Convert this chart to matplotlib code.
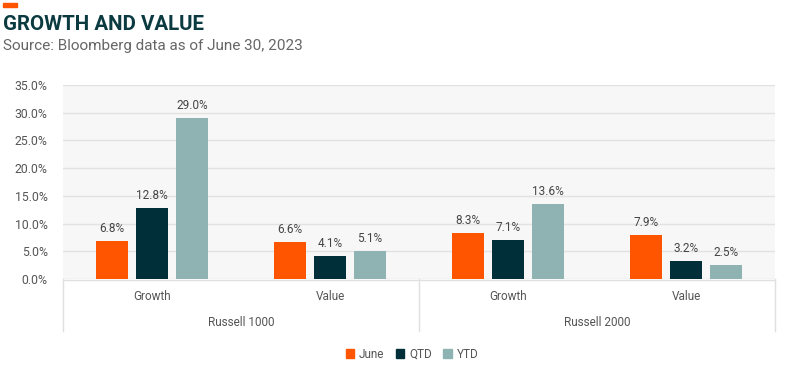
import matplotlib
matplotlib.use("Agg")
import matplotlib.pyplot as plt
from matplotlib.patches import Rectangle
from matplotlib.lines import Line2D
import numpy as np

plt.rcParams['font.family'] = ['Roboto', 'DejaVu Sans']

groups = ["Russell 1000", "Russell 2000"]
categories = ["Growth", "Value", "Growth", "Value"]
series = ["June", "QTD", "YTD"]
june = [6.8, 6.6, 8.3, 7.9]
qtd = [12.8, 4.1, 7.1, 3.2]
ytd = [29.0, 5.1, 13.6, 2.5]
yticks = [0, 5, 10, 15, 20, 25, 30, 35]
colors = ["#FF5500", "#002F3A", "#8FB3B3"]

W, H = 801, 377
fig = plt.figure(figsize=(W/100, H/100), dpi=100)
L, R, T, B = 63, 775, 85, 279
ax = fig.add_axes([L/W, 1-B/H, (R-L)/W, (B-T)/H])
ax.set_facecolor("#F7F7F7")

x = np.arange(len(categories))
bw = 0.175
gap = 0.05
for i, (vals, c) in enumerate(zip([june, qtd, ytd], colors)):
    off = (i-1)*(bw+gap)
    ax.bar(x+off, vals, width=bw, color=c, zorder=3, label=series[i])
    for xi, v in zip(x+off, vals):
        ax.text(xi, v+1.1, f"{v:.1f}%", ha="center", va="bottom", fontsize=8.5, color="#444444")

ax.set_xlim(-0.5, 3.5)
ax.set_ylim(0, 35)
ax.set_yticks(yticks)
ax.set_yticklabels([f"{t:.1f}%" for t in yticks], fontsize=8.8, color="#555555")
ax.tick_params(axis='y', length=0, pad=11)
ax.set_xticks([])
ax.grid(axis='y', color="#E2E2E2", linewidth=1, zorder=0)
for s in ax.spines.values():
    s.set_visible(False)

# category box below axes
def fx(px): return px/W
def fy(py): return 1-py/H
fig.add_artist(Line2D([fx(L), fx(R)], [fy(B+1), fy(B+1)], color="#E0E0E0", lw=1))
for px in [L, (L+R)/2, R]:
    fig.add_artist(Line2D([fx(px), fx(px)], [fy(B), fy(331)], color="#E0E0E0", lw=1))
for i, c in enumerate(categories):
    xc = L + (R-L)*(i+0.5)/4
    fig.text(fx(xc), fy(296), c, ha="center", va="center", fontsize=8.5, color="#555555")
for i, g in enumerate(groups):
    xc = L + (R-L)*(i+0.5)/2
    fig.text(fx(xc), fy(322), g, ha="center", va="center", fontsize=8.5, color="#555555")

# legend
handles = [Rectangle((0, 0), 1, 1, color=c) for c in colors]
fig.legend(handles, series, loc="center", bbox_to_anchor=(fx(412), fy(354)), ncol=3,
           frameon=False, fontsize=8.5, handlelength=0.7, handleheight=0.7,
           handletextpad=0.4, columnspacing=1.0, labelcolor="#555555")

# title
fig.add_artist(Rectangle((fx(3), fy(7)), (17-3)/W, 4/H, color="#FF5500", transform=fig.transFigure))
fig.text(fx(3), fy(25), "GROWTH AND VALUE", ha="left", va="center", fontsize=14.8,
         fontweight="bold", color="#0B3A40")
fig.text(fx(3), fy(46), "Source: Bloomberg data as of June 30, 2023", ha="left", va="center",
         fontsize=11, color="#666666")

fig.savefig("out.png", dpi=100)
